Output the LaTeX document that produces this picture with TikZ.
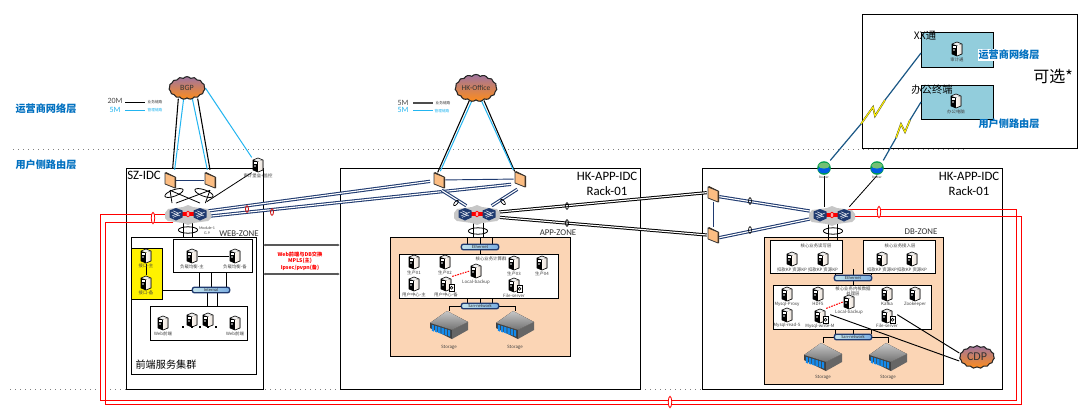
\documentclass[tikz,border=0pt]{standalone}
\usepackage{fontspec}
\setmainfont{Carlito}
\newfontfamily\cjk{Noto Sans CJK SC}
\usetikzlibrary{calc,shapes.symbols,shapes.geometric,arrows.meta}
\pgfdeclarelayer{back}\pgfdeclarelayer{wires}
\pgfsetlayers{back,wires,main}
\definecolor{navyline}{HTML}{1F3A70}
\definecolor{peachzone}{HTML}{FBD5B5}
\definecolor{labelblue}{HTML}{0070C0}
\definecolor{cyanlink}{HTML}{22B5F0}
\definecolor{skybox}{HTML}{92CDDC}
\tikzset{
  x=0.75pt,y=-0.75pt,
  frame/.style={draw=black,line width=0.8pt,fill=white},
  zone/.style={draw=black,line width=0.8pt,fill=peachzone},
  whitebox/.style={draw=black,line width=0.8pt,fill=white},
  link/.style={draw=black,line width=0.6pt},
  cyanwire/.style={draw=cyanlink,line width=0.75pt},
  navydouble/.style={draw=navyline,double=white,double distance=0.85pt,line width=0.8pt},
  blackdouble/.style={draw=black,double=white,double distance=0.85pt,line width=0.75pt},
  redwire/.style={draw=red,line width=0.7pt},
  dotrule/.style={draw=black!50,line width=0.75pt,dash pattern=on 0.75pt off 3pt},
  tinycap/.style={inner sep=0pt,font=\cjk\fontsize{3.3}{4}\selectfont,text=black!75,align=center},
  zonecap/.style={inner sep=0pt,font=\fontsize{6.6}{7.5}\selectfont,text=black!80},
  idc/.style={inner sep=0pt,font=\fontsize{9.6}{11}\selectfont,align=center},
  layertext/.style={inner sep=0.5pt,font=\cjk\bfseries\fontsize{7.6}{9}\selectfont,text=labelblue},
  holder/.style={inner sep=0pt,minimum width=9pt,minimum height=11pt},
  ringmark/.style={ellipse,draw=black,line width=0.5pt,inner sep=0pt,minimum width=2.2pt,minimum height=5pt},
  redmark/.style={ellipse,draw=red,line width=0.6pt,fill=white,inner sep=0pt,minimum width=2.6pt,minimum height=8.5pt},
  bundle/.style={ellipse,draw=black,line width=0.6pt,inner sep=0pt,minimum width=14.5pt,minimum height=4.8pt},
  busbar/.style={draw=navyline,line width=1pt,rounded corners=1.6pt,left color=skybox!55,right color=skybox!85!blue,
    minimum width=28pt,minimum height=4.2pt,inner sep=0pt,font=\fontsize{3.4}{4}\selectfont,text=black!80},
  cloudnode/.style={cloud,cloud puffs=15,cloud puff arc=100,aspect=1.7,draw=black!85,line width=0.8pt,
    top color=violet!45!gray!75,bottom color=orange!90,inner sep=0pt,text=black!80},
  server/.pic={
    \fill[black!6] (-5,-5)--(0,-7)--(5,-5)--(0,-3.4)--cycle;
    \fill[black] (-5,-5)--(0,-3.4)--(0,7)--(-5,5)--cycle;
    \fill[left color=orange!6,right color=orange!25!black!15] (0,-3.4)--(5,-5)--(5,5)--(0,7)--cycle;
    \fill[white] (-3.6,-2.6) rectangle (-1.4,-1.4);
    \fill[white] (-3,1) circle (0.9);
    \draw[black,line width=0.45pt,line join=round] (-5,-5)--(0,-7)--(5,-5)--(5,5)--(0,7)--(-5,5)--cycle;
  },
  diskbadge/.pic={
    \draw[black,fill=white,line width=0.45pt] (3,0) rectangle (8,7);
    \draw[black,line width=0.45pt] (5.5,3.8) circle (1.4);
  },
  swcube/.pic={
    \fill[navyline] (-6.5,-3.5)--(0,-6)--(6.5,-3.5)--(6.5,3.5)--(0,6.5)--(-6.5,3.5)--cycle;
    \draw[white,line width=0.35pt] (-5,-2)--(4,2) (-4,2)--(5,-2) (-3,-3.2)--(3,-0.6) (-3,3.4)--(3,0.8);
  },
  switchpair/.pic={
    \fill[black!22] (-23,-1)--(-20,-5)--(-5,-7)--(0,-9)--(5,-7)--(20,-5)--(23,-1)--(23,4)--(20,7)--(5,9)--(0,11)--(-5,9)--(-20,7)--(-23,4)--cycle;
    \fill[red] (-7,-2.2) rectangle (7,2.2);
    \draw[red,fill=red!35,line width=0.5pt] (0,0) ellipse (1.8 and 2.8);
    \pic at (-12,0) {swcube};
    \pic at (12,0) {swcube};
  },
  firewall/.pic={
    \fill[black!75!brown] (-5,-7)--(-4,-8)--(6,-3)--(6,8)--(5,8)--(4,-2)--cycle;
    \draw[black!80,fill=orange!28!peachzone,line width=0.6pt,line join=round] (-5,-7)--(5,-3)--(5,8)--(-5,4)--cycle;
  },
  routericon/.pic={
    \fill[green!45!black!70!cyan] (0,0) circle (6.8);
    \fill[blue!60!cyan!90!black] (0,1.6) ellipse (6.2 and 3.6);
    \fill[green!55!black!55] (0,-2.4) ellipse (5.6 and 3);
  },
  storagebox/.pic={
    \fill[top color=black!22,bottom color=black!55] (-19,-2)--(-2,-14)--(19,-3)--(3,5)--cycle;
    \fill[black!75] (-19,-2)--(3,5)--(3,14)--(-19,3)--cycle;
    \fill[black!60] (3,5)--(19,-3)--(19,5)--(3,14)--cycle;
    \foreach \k in {0,1,2,3,4,5}{
      \fill[blue!45!cyan!85!gray] ($(-17.2,-0.3)+(\k*3.2,\k*1)$) -- ++(2.4,0.8) -- ++(0,6.2) -- ++(-2.4,-1) -- cycle;
    }
  }
}
% server with caption; the optional argument adds a disk badge
\newcommand\srv[4][]{%
  \node[holder] (#2) at (#3) {};
  \pic at (#2) {server};
  \ifx\relax#1\relax\else\pic at (#2) {diskbadge};\fi
  \node[tinycap] (#2-cap) at ($(#2)+(0,#4)$) {\srvtext};
}
\newcommand\srvat[5][]{\def\srvtext{#5}\srv[#1]{#2}{#3}{#4}}
\begin{document}
\begin{tikzpicture}
\useasboundingbox (0,0) rectangle (1090,412);

\begin{pgfonlayer}{back}
  \fill[white] (0,0) rectangle (1090,412);
  \coordinate (ruleAl) at (13,149); \coordinate (ruleAr) at (968,149);
  \coordinate (ruleBl) at (10,389); \coordinate (ruleBr) at (1000,389);
  \draw[dotrule] (ruleAl) -- (ruleAr);
  \draw[dotrule] (ruleBl) -- (ruleBr);

  \node[frame,minimum width=102.75pt,minimum height=165.5pt,anchor=north west,inner sep=0pt] (szidc) at (126,168) {};
  \node[frame,minimum width=225pt,minimum height=165.5pt,anchor=north west,inner sep=0pt] (hkapp) at (340,168) {};
  \node[frame,minimum width=225pt,minimum height=165.5pt,anchor=north west,inner sep=0pt] (hkdb) at (702,168) {};
  \node[frame,minimum width=161pt,minimum height=100.5pt,anchor=north west,inner sep=0pt] (optional) at (862,14) {};

  \node[whitebox,minimum width=94pt,minimum height=103pt,anchor=north west,inner sep=0pt] (webzone) at (131,237) {};
  \node[draw=black,line width=0.8pt,fill=yellow,minimum width=23pt,minimum height=38pt,anchor=north west,inner sep=0pt] (yellowbox) at (131,248) {};
  \node[whitebox,minimum width=59pt,minimum height=25pt,anchor=north west,inner sep=0pt] (lbbox) at (173,239) {};
  \node[whitebox,minimum width=73pt,minimum height=25.5pt,anchor=north west,inner sep=0pt] (webbox) at (150,306) {};

  \node[zone,minimum width=135pt,minimum height=89pt,anchor=north west,inner sep=0pt] (appzone) at (390,237) {};
  \node[whitebox,minimum width=119pt,minimum height=33pt,anchor=north west,inner sep=0pt] (appcore) at (399,254) {};

  \node[zone,minimum width=134pt,minimum height=110pt,anchor=north west,inner sep=0pt] (dbzone) at (764,237) {};
  \node[whitebox,minimum width=54pt,minimum height=25pt,anchor=north west,inner sep=0pt] (dbread) at (770,240) {};
  \node[whitebox,minimum width=54pt,minimum height=25pt,anchor=north west,inner sep=0pt] (dbwrite) at (863,240) {};
  \node[whitebox,minimum width=118.5pt,minimum height=33pt,anchor=north west,inner sep=0pt] (dbcore) at (773,285) {};

  \node[draw=black,line width=0.8pt,fill=skybox,minimum width=54pt,minimum height=26pt,anchor=north west,inner sep=0pt] (xxbox) at (921,32) {};
  \node[draw=black,line width=0.8pt,fill=skybox,minimum width=54pt,minimum height=25.5pt,anchor=north west,inner sep=0pt] (officebox) at (921,85) {};
\end{pgfonlayer}

% ---- labels ----
\node[layertext] (lblA) at (46,109) {运营商网络层};
\node[layertext] (lblB) at (46,165) {用户侧路由层};
\node[inner sep=0pt,font=\fontsize{6}{7}\selectfont,text=black!70] (l20) at (115,101) {20M};
\node[inner sep=0pt,font=\fontsize{6}{7}\selectfont,text=cyanlink] (l5) at (115,110) {5M};
\coordinate (l20a) at (125,102); \coordinate (l20b) at (145,102);
\coordinate (l5a) at (125,110); \coordinate (l5b) at (145,110);
\node[tinycap,font=\cjk\fontsize{2.8}{3.5}\selectfont] (l20t) at (155,102.5) {业务链路};
\node[tinycap,font=\cjk\fontsize{2.8}{3.5}\selectfont,text=cyanlink] (l5t) at (155,110.5) {管理链路};
\node[inner sep=0pt,font=\fontsize{6}{7}\selectfont,text=black!70] (m5a) at (403,103) {5M};
\node[inner sep=0pt,font=\fontsize{6}{7}\selectfont,text=cyanlink] (m5b) at (403,110) {5M};
\coordinate (m5aa) at (413,103); \coordinate (m5ab) at (433,103);
\coordinate (m5ba) at (413,110.5); \coordinate (m5bb) at (433,110.5);
\node[tinycap,font=\cjk\fontsize{2.8}{3.5}\selectfont] (m5at) at (443,103) {业务链路};
\node[tinycap,font=\cjk\fontsize{2.8}{3.5}\selectfont,text=cyanlink] (m5bt) at (442,111) {管理链路};

\node[idc,anchor=west] (szname) at (127,175) {SZ-IDC};
\node[idc] (hkname) at (607,184) {HK-APP-IDC\\Rack-01};
\node[idc] (dbname) at (969,184) {HK-APP-IDC\\Rack-01};
\node[zonecap] (webname) at (239,234) {WEB-ZONE};
\node[zonecap] (appname) at (558,233) {APP-ZONE};
\node[zonecap] (dbname2) at (921,232) {DB-ZONE};
\node[inner sep=0pt,font=\cjk\fontsize{7.6}{9}\selectfont] (webcluster) at (166,365) {前端服务集群};
\node[inner sep=0pt,font=\cjk\bfseries\fontsize{3.9}{4.9}\selectfont,text=red,align=center] (wanlabel) at (300,261) {Web前端与DB交换\\MPLS(主)\\Ipsec/pvpn(备)};
\node[tinycap,font=\fontsize{3}{3.6}\selectfont] (modtext) at (207,231) {Module-1\\G.9};
\node[inner sep=0pt,font=\cjk\fontsize{7.7}{9}\selectfont] (xxname) at (925,36) {XX通};
\node[inner sep=0pt,font=\cjk\fontsize{7.7}{9}\selectfont] (officename) at (932,90) {办公终端};
\node[layertext,fill=white] (lblC) at (1009,55) {运营商网络层};
\node[layertext] (lblD) at (1009,124) {用户侧路由层};
\node[inner sep=0pt,font=\cjk\fontsize{12}{14}\selectfont] (optname) at (1053,76) {可选*};

% ---- clouds ----
\node[cloudnode,minimum width=27pt,minimum height=17pt,font=\fontsize{6}{7}\selectfont] (bgp) at (187,88) {BGP};
\node[cloudnode,minimum width=27pt,minimum height=17pt,font=\fontsize{5.6}{7}\selectfont] (office) at (476,88) {HK-Office};
\node[cloudnode,minimum width=26pt,minimum height=17pt,font=\fontsize{9}{11}\selectfont] (cdp) at (977,357) {CDP};

% ---- network devices ----
\node[holder] (fwa) at (170,180) {}; \pic at (fwa) {firewall};
\node[holder] (fwb) at (210,180) {}; \pic at (fwb) {firewall};
\node[holder] (fwc) at (439,180) {}; \pic at (fwc) {firewall};
\node[holder] (fwd) at (520,179) {}; \pic at (fwd) {firewall};
\node[holder] (fwe) at (713,194) {}; \pic at (fwe) {firewall};
\node[holder] (fwf) at (713,235) {}; \pic at (fwf) {firewall};
\node[holder,minimum width=33pt,minimum height=12pt] (swa) at (188,214) {}; \pic at (swa) {switchpair};
\node[holder,minimum width=33pt,minimum height=12pt] (swb) at (477,214) {}; \pic at (swb) {switchpair};
\node[holder,minimum width=33pt,minimum height=12pt] (swc) at (832,215) {}; \pic at (swc) {switchpair};
\node[holder] (rta) at (824,168) {}; \pic at (rta) {routericon};
\node[holder] (rtb) at (877,168) {}; \pic at (rtb) {routericon};
\node[tinycap,font=\fontsize{2.6}{3}\selectfont] (rtacap) at (824,177) {Router};
\node[tinycap,font=\fontsize{2.6}{3}\selectfont] (rtbcap) at (877,177) {Router};

% ---- bus bars ----
\node[busbar] (webbus) at (211,290) {Internal};
\node[busbar] (appeth) at (480,247) {Ethernet};
\node[busbar] (appsan) at (480,306) {San-network};
\node[busbar] (dbeth) at (853,278) {Ethernet};
\node[busbar] (dbsan) at (853,337) {San-network};

% ---- storage ----
\node[holder,minimum width=28pt,minimum height=20pt] (stoa) at (449,325) {}; \pic at (stoa) {storagebox};
\node[holder,minimum width=28pt,minimum height=20pt] (stob) at (515,325) {}; \pic at (stob) {storagebox};
\node[holder,minimum width=28pt,minimum height=20pt] (stoc) at (823,357) {}; \pic at (stoc) {storagebox};
\node[holder,minimum width=28pt,minimum height=20pt] (stod) at (888,357) {}; \pic at (stod) {storagebox};
\node[tinycap] (stoacap) at (449,347) {Storage};
\node[tinycap] (stobcap) at (515,347) {Storage};
\node[tinycap] (stoccap) at (823,377) {Storage};
\node[tinycap] (stodcap) at (888,377) {Storage};

% ---- servers: SZ ----
\srvat{audit}{258,165}{11}{审计堡垒+监控}
\srvat{ifa}{146,256}{10}{接口-主}
\srvat{ifb}{146,283}{10}{接口-备}
\srvat{lba}{192,256}{11}{负载均衡-主}
\srvat{lbb}{235,256}{11}{负载均衡-备}
\srvat{weba}{163,323}{11}{Web前端}
\srvat{webb}{235,323}{11}{Web前端}
\node[holder,minimum width=5pt,minimum height=7pt] (webc) at (192,320) {};
\node[holder,minimum width=5pt,minimum height=7pt] (webd) at (208,320) {};
\begin{scope}[shift={(192,320)},scale=0.62]\pic {server};\end{scope}
\begin{scope}[shift={(208,320)},scale=0.62]\pic {server};\end{scope}
\foreach \dx in {183,192,200,208,216}{
  \fill[black] (\dx-1,326) rectangle (\dx+1,328);
}

% ---- servers: APP ----
\node[tinycap] (apptitle) at (491,259) {核心业务计算群};
\srvat{ap1}{414,262}{11}{生产01}
\srvat{ap2}{445,262}{11}{生产02}
\srvat{ap3}{514,263}{11}{生产03}
\srvat{ap4}{542,263}{11}{生产04}
\srvat{apb}{476,271}{11}{Local-backup}
\srvat{apc}{414,284}{11}{用户中心-主}
\srvat[d]{apd}{446,284}{11}{用户中心-备}
\srvat[d]{ape}{514,285}{11}{File-server}

% ---- servers: DB ----
\node[tinycap] (readtitle) at (816,246) {核心业务读写层};
\node[tinycap] (writetitle) at (900,246) {核心业务接入层};
\srvat{ra}{792,259}{11}{扣款KP 资源KP}
\srvat{rb}{823,259}{11}{扣款KP 资源KP}
\srvat{wa}{882,259}{11}{扣款KP 资源KP}
\srvat{wb}{912,259}{11}{扣款KP 资源KP}
\node[tinycap] (coretitle) at (853,291) {核心业务内核数据\\处理层};
\srvat{dba}{787,294}{10}{Mysql-Proxy}
\srvat{dbb}{818,294}{10}{HDFS}
\srvat{dbc}{849,302}{10}{Local-backup}
\srvat{dbd}{887,294}{10}{Kafka}
\srvat{dbe}{915,294}{10}{Zookeeper}
\srvat{dbf}{787,315}{10}{Mysql-read-S}
\srvat[d]{dbg}{820,316}{10}{Mysql-write-M}
\srvat[d]{dbh}{887,316}{10}{File-server}

% ---- servers: optional terminals ----
\srvat{xxsrv}{957,49}{11}{审计通}
\srvat{officesrv}{956,101}{11}{办公电脑}

% ---- connectors ----
\begin{pgfonlayer}{wires}
  % legends
  \draw[link] (l20a) -- (l20b);
  \draw[cyanwire] (l5a) -- (l5b);
  \draw[link,draw=black!70,line width=0.8pt] (m5aa) -- (m5ab);
  \draw[cyanwire] (m5ba) -- (m5bb);

  % carrier uplinks
  \draw[link,line width=0.8pt] ([xshift=-6.5pt]bgp.south) -- ([xshift=2pt,yshift=3pt]fwa.north);
  \draw[cyanwire] ([xshift=-2.5pt]bgp.south) -- ([xshift=3.5pt,yshift=2pt]fwa.north);
  \draw[cyanwire] ([xshift=4pt]bgp.south) -- ([xshift=-2pt,yshift=2pt]fwb.north);
  \draw[link,line width=0.8pt] ([xshift=8pt]bgp.south) -- ([xshift=0pt,yshift=2pt]fwb.north);
  \draw[cyanwire] (bgp.east) -- (audit.north west);
  \draw[link] ([xshift=14pt,yshift=3pt]swa.north) -- (audit.south west);

  \draw[link,line width=0.8pt] ([xshift=-5pt]office.south) -- ([xshift=-1pt,yshift=0pt]fwc.north);
  \draw[cyanwire] ([xshift=-3pt]office.south) -- ([xshift=1pt,yshift=1pt]fwc.north);
  \draw[link,line width=0.8pt] ([xshift=6pt]office.south) -- ([xshift=-4pt,yshift=0pt]fwd.north);
  \draw[cyanwire] ([xshift=4pt]office.south) -- ([xshift=-5pt,yshift=1pt]fwd.north);

  % firewall tie lines
  \draw[navyline,line width=0.7pt] (fwa) -- (fwb);
  \draw[navyline,line width=0.7pt] (fwc) -- (fwd);
  \draw[navyline,line width=0.7pt] (fwe) -- (fwf);

  % SZ firewalls to switches
  \draw[link] ([yshift=-2pt]fwa.south) -- ([xshift=-12pt,yshift=2pt]swa.north);
  \draw[link] ([yshift=-2pt]fwa.south) -- ([xshift=9pt,yshift=2pt]swa.north);
  \draw[link] ([yshift=-2pt]fwb.south) -- ([xshift=-9pt,yshift=2pt]swa.north);
  \draw[link] ([yshift=-2pt]fwb.south) -- ([xshift=13pt,yshift=2pt]swa.north);

  % inter-site trunks
  \draw[navydouble] ([xshift=-4pt,yshift=2pt]swa.east) -- ([xshift=-2pt,yshift=-1pt]fwc.west);
  \draw[navydouble] ([xshift=-4pt,yshift=-2pt]swa.east) -- ([xshift=-2pt,yshift=-4pt]fwd.west);
  \draw[blackdouble] ([yshift=1.5pt]swb.east) -- ([yshift=1pt]fwe.west);
  \draw[blackdouble] ([yshift=-2.5pt]swb.east) -- (fwf.west);
  \draw[navydouble] ([xshift=2pt,yshift=-2pt]fwc.south) -- ([xshift=-8pt]swb.north);
  \draw[navydouble] ([xshift=-2pt,yshift=-2pt]fwd.south) -- ([xshift=11pt]swb.north);
  \draw[navydouble] ([yshift=-2pt]fwe.east) -- ([yshift=3pt]swc.west);
  \draw[navydouble] ([yshift=-2pt]fwf.east) -- ([yshift=-3pt]swc.west);

  % router uplinks
  \draw[link] (rta.south) -- ([xshift=-6pt]swc.north);
  \draw[link] (rtb.south) -- ([xshift=13pt]swc.north);

  % switch to zone
  \foreach \dx in {-3.75,3}{\draw[link,line width=0.7pt] ([xshift=\dx pt]swa.south) -- ([xshift=\dx pt]swa.south |- webzone.north);}
  \foreach \dx in {-2.3,5.2}{\draw[link,line width=0.7pt] ([xshift=\dx pt]swb.south) -- ([xshift=\dx pt]swb.south |- appzone.north);}
  \foreach \dx in {-3,3.75}{\draw[link,line width=0.7pt] ([xshift=\dx pt]swc.south) -- ([xshift=\dx pt]swc.south |- dbread.north);}

  % WEB zone wiring
  \draw[link] (ifa) -- (ifb);
  \draw[link] (lba) -- (lbb);
  \foreach \dx in {-9,0,11.25}{\draw[link] ([xshift=\dx pt]webbus.north) -- ([xshift=\dx pt]webbus.north |- lbbox.south);}
  \foreach \dx in {-3,4.5}{\draw[link] ([xshift=\dx pt]webbus.south) -- ([xshift=\dx pt]webbus.south |- webbox.north);}
  \draw[link] (yellowbox.east |- webbus) -- (webbus.west);

  % APP zone wiring
  \foreach \dx in {-9.75,0,9}{\draw[link] ([xshift=\dx pt]appeth.north) -- ([xshift=\dx pt]appeth.north |- appzone.north);}
  \draw[link] (appeth.south) -- (appeth.south |- appcore.north);
  \foreach \dx in {-9.75,0,9}{\draw[link] ([xshift=\dx pt]appsan.north) -- ([xshift=\dx pt]appsan.north |- appcore.south);}
  \draw[link] (appsan.west) -| (stoa.north);
  \draw[link] (appsan.east) -| (stob.north);
  \draw[red,line width=0.8pt,dash pattern=on 1.2pt off 0.8pt] (apd.north east) -- (apb.west);

  % DB zone wiring
  \draw[link] ([xshift=-13.5pt]dbeth.north) -- ([xshift=-13.5pt]dbeth.north |- dbread.south);
  \draw[link] ([xshift=13.5pt]dbeth.north) -- ([xshift=13.5pt]dbeth.north |- dbwrite.south);
  \coordinate (dbstub) at (853,269);
  \draw[link] (dbeth.north) -- (dbstub);
  \draw[link] (dbeth.south) -- (dbeth.south |- dbcore.north);
  \foreach \dx in {-13.5,0,13.5}{\draw[link] ([xshift=\dx pt]dbsan.north) -- ([xshift=\dx pt]dbsan.north |- dbcore.south);}
  \draw[link] (dbsan.west) -| (stoc.north);
  \draw[link] (dbsan.east) -| (stod.north);
  \draw[red,line width=0.8pt,dash pattern=on 1.2pt off 0.8pt] (dbg.north east) -- (dbc.west);

  % CDP replication
  \draw[link,line width=0.7pt] ([xshift=3pt,yshift=1pt]dbg.east) -- ([yshift=-3pt]cdp.west);
  \draw[link,line width=0.7pt] ([xshift=3pt,yshift=1pt]dbh.east) -- ([yshift=3pt]cdp.west);

  % inter-site bands between SZ and HK
  \coordinate (wanAl) at (263,245); \coordinate (wanAr) at (340,245);
  \coordinate (wanBl) at (263,274); \coordinate (wanBr) at (340,274);
  \draw[black!65,line width=0.8pt,{Latex[length=2pt,width=2pt]}-{Latex[length=2pt,width=2pt]}] (wanAl) -- (wanAr);
  \draw[black!65,line width=0.9pt,{Latex[length=2pt,width=2pt]}-{Latex[length=2pt,width=2pt]}] (wanBl) -- (wanBr);

  % red replication ring
  \coordinate (ringA) at (100.5,400.5); \coordinate (ringB) at (105.5,404.5);
  \coordinate (ringC) at (1016.5,400.5); \coordinate (ringD) at (1021.5,404.5);
  \draw[redwire] ([xshift=-6pt]swa.center) -| (ringA) -- (ringC) |- ([xshift=12pt,yshift=4.5pt]swc.center);
  \draw[redwire] ([xshift=-11pt,yshift=-6pt]swa.center) -| (ringB) -- (ringD) |- ([xshift=12pt,yshift=-0.75pt]swc.center);
\end{pgfonlayer}

% bolts and their leads
\coordinate (boltAa) at (875,116); \coordinate (boltAb) at (873,107);
\coordinate (boltBa) at (905,132); \coordinate (boltBb) at (901,124);
\coordinate (xxport) at (921,53);
\coordinate (officeport) at (921,102);
\coordinate (boltAc) at (885,100); \coordinate (boltAd) at (861,124);
\coordinate (boltBc) at (910,120); \coordinate (boltBd) at (896,138);
\draw[black!70!olive,line width=1.3pt] (boltAc) -- (boltAa) -- (boltAb) -- (boltAd);
\draw[yellow,line width=0.8pt] (boltAc) -- (boltAa) -- (boltAb) -- (boltAd);
\draw[black!70!olive,line width=1.3pt] (boltBc) -- (boltBa) -- (boltBb) -- (boltBd);
\draw[yellow,line width=0.8pt] (boltBc) -- (boltBa) -- (boltBb) -- (boltBd);
\draw[navyline!85!cyan,line width=0.9pt] (xxport) -- (boltAc);
\draw[navyline!85!cyan,line width=0.9pt] (boltAd) -- (rta.north east);
\draw[navyline!85!cyan,line width=0.9pt] (officeport) -- (boltBc);
\draw[navyline!85!cyan,line width=0.9pt] (boltBd) -- (rtb.north east);

% bundle rings and link marks
\node[bundle,rotate=20] (ringfa) at (174,193) {};
\node[bundle,rotate=-20] (ringfb) at (204,193) {};
\node[bundle] (ringsa) at (188,230) {};
\node[bundle] (ringsb) at (478,231) {};
\node[bundle] (ringsc) at (833,231) {};
\node[redmark] (rma) at (153,218) {};
\node[redmark] (rmb) at (670,402) {};
\node[redmark] (rmc) at (879,212) {};
\node[ringmark,draw=red!80!black,line width=0.6pt] (tma) at (247,209) {};
\node[ringmark,draw=red!80!black,line width=0.6pt] (tmb) at (272,212) {};
\node[ringmark] (tmc) at (567,206) {};
\node[ringmark] (tmd) at (567,223) {};
\node[ringmark] (tme) at (750,201) {};
\node[ringmark] (tmf) at (750,230) {};
\node[ringmark,rotate=-40] (tmg) at (456,203) {};
\node[ringmark,rotate=40] (tmh) at (503,202) {};
\end{tikzpicture}
\end{document}
